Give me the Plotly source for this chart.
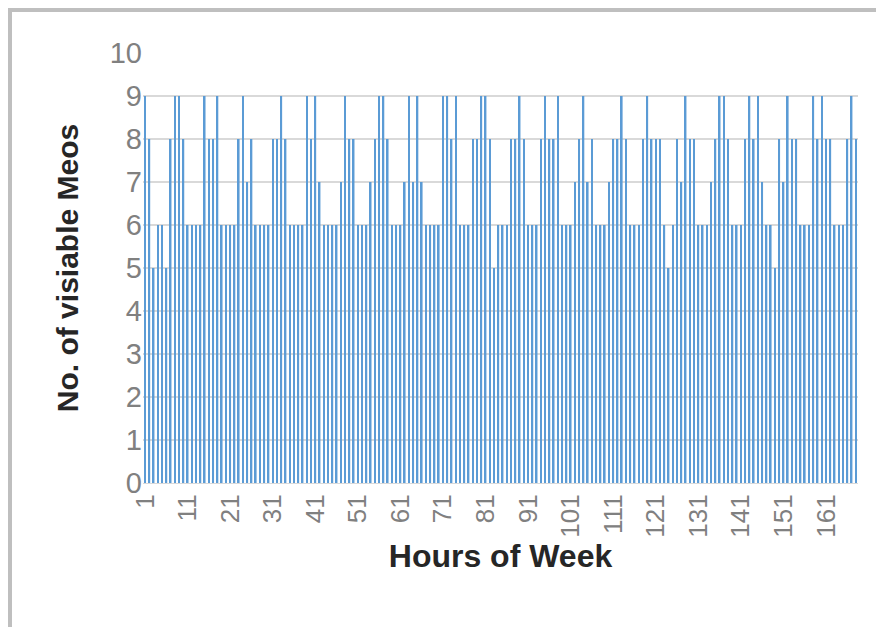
import plotly.graph_objects as go

hours = list(range(1, 169))
visible = [9, 8, 5, 6, 6, 5, 8, 9, 9, 8, 6, 6, 6, 6, 9, 8, 8, 9, 6, 6, 6,
           6, 8, 9, 7, 8, 6, 6, 6, 6, 8, 8, 9, 8, 6, 6, 6, 6, 9, 8, 9, 7,
           6, 6, 6, 6, 7, 9, 8, 8, 6, 6, 6, 7, 8, 9, 9, 8, 6, 6, 6, 7, 9,
           7, 9, 7, 6, 6, 6, 6, 9, 9, 8, 9, 6, 6, 6, 8, 8, 9, 9, 8, 5, 6,
           6, 6, 8, 8, 9, 8, 6, 6, 6, 8, 9, 8, 8, 9, 6, 6, 6, 7, 8, 9, 7, 8,
           6, 6, 6, 7, 8, 8, 9, 8, 6, 6, 6, 8, 9, 8, 8, 8, 6, 5, 6, 8, 7,
           9, 8, 8, 6, 6, 6, 7, 8, 9, 9, 8, 6, 6, 6, 8, 9, 8, 9, 7, 6, 6,
           5, 8, 7, 9, 8, 8, 6, 6, 6, 9, 8, 9, 8, 8, 6, 6, 6, 8, 9, 8]
tick_vals = list(range(1, 169, 10))

fig = go.Figure()
fig.add_trace(go.Bar(x=hours, y=visible, marker_color='#5b9bd5', marker_line_width=0))

fig.update_layout(
    width=884, height=627,
    margin=dict(l=135, r=34, t=45, b=152, autoexpand=False),
    paper_bgcolor='white', plot_bgcolor='white',
    bargap=0.62,
    showlegend=False,
    font=dict(family='Liberation Sans, Arial', color='#808080'),
    shapes=[dict(type='rect', xref='paper', yref='paper', x0=-0.186, x1=1.045, y0=-0.349, y1=1.1,
                 line=dict(color='#bfbfbf', width=4))],
)
fig.update_xaxes(
    automargin=False,
    range=[0.5, 168.5], tickmode='array', tickvals=tick_vals, ticktext=[str(v) for v in tick_vals],
    tickangle=-90, tickfont=dict(size=26, color='#808080'), showgrid=False,
    showline=True, linecolor='#d9d9d9', ticks='',
    title=dict(text='<b>Hours of Week</b>', font=dict(size=32, color='#262626'), standoff=4),
)
fig.update_yaxes(
    automargin=False,
    range=[0, 10], dtick=1, tickfont=dict(size=29, color='#808080'),
    showgrid=True, gridcolor='#d9d9d9', gridwidth=2, zeroline=False,
    title=dict(text='<b>No. of visiable Meos</b>', font=dict(size=30, color='#262626'), standoff=22),
)

fig.write_html("out.html")
